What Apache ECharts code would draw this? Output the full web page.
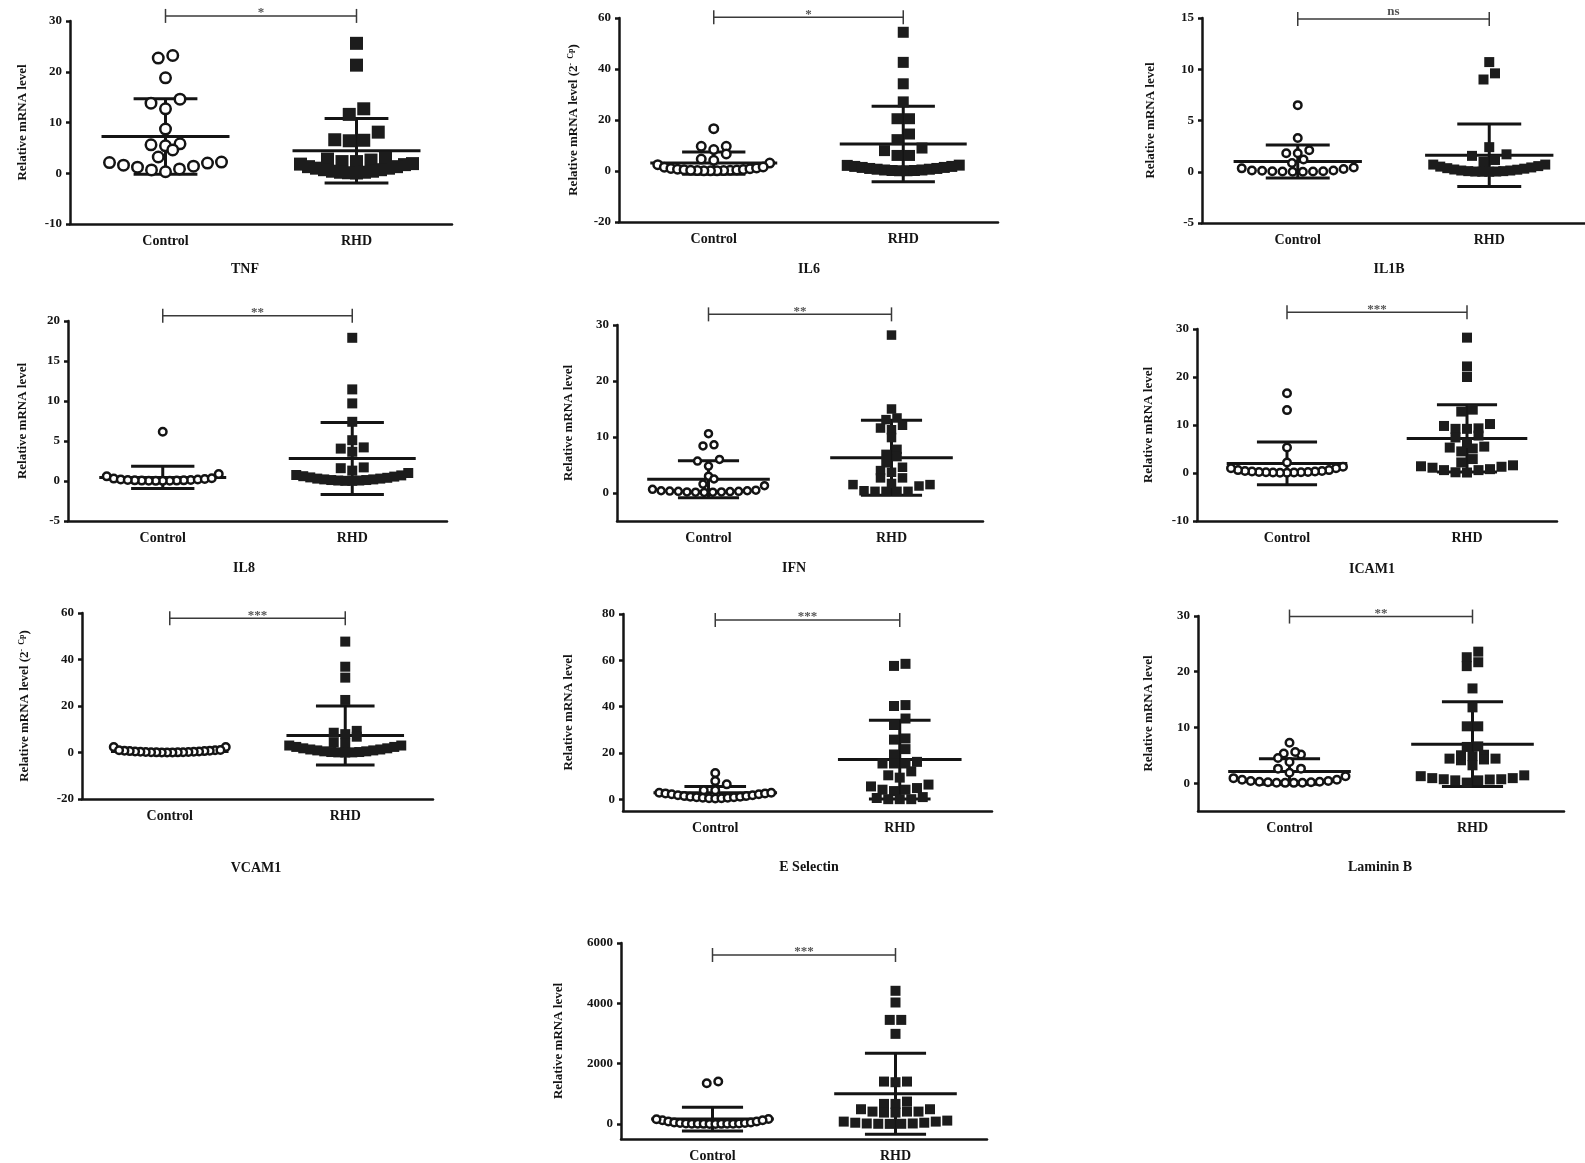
<!DOCTYPE html>
<html>
<head>
<meta charset="utf-8">
<script src="https://cdn.jsdelivr.net/npm/echarts@6/dist/echarts.min.js"></script>
<style>
  html, body { margin: 0; background: #fff; }
  #chart { width: 1585px; height: 1163px; }
</style>
</head>
<body>
<div id="chart"></div>
<script>
const groups = ['Control', 'RHD']
const panelNames = ['TNF', 'IL6', 'IL1B', 'IL8', 'IFN', 'ICAM1', 'VCAM1', 'E Selectin', 'Laminin B', '']
const sigLabels = ['*', '*', 'ns', '**', '**', '***', '***', '***', '**', '***']
const sigY = [31.0, 60.3, 14.9, 20.66, 31.9, 33.5, 57.7, 77.4, 29.9, 5602]
const yMin = [-10, -20, -5, -5, -5, -10, -20, -5, -5, -500]
const yMax = [30, 60, 15, 20, 30, 30, 60, 80, 30, 6000]
const yTicks = [
  [-10, 0, 10, 20, 30], [-20, 0, 20, 40, 60], [-5, 0, 5, 10, 15],
  [-5, 0, 5, 10, 15, 20], [0, 10, 20, 30], [-10, 0, 10, 20, 30],
  [-20, 0, 20, 40, 60], [0, 20, 40, 60, 80], [0, 10, 20, 30], [0, 2000, 4000, 6000]
]

// relative mRNA levels, one value per subject
const tnfCtrl = [22.7, 23.2, 18.8, 14.6, 13.8, 12.7, 8.7, 5.8, 5.4, 5.6, 4.6, 3.2, 2.2, 2.0, 1.4, 0.85, 0.3, 0.65, 1.2, 1.6, 2.1]
const tnfRhd = [25.6, 21.3, 12.7, 11.6, 8.1, 6.6, 6.4, 6.5, 3.0, 2.6, 1.9, 2.3, 2.8, 2.3, 1.7, 1.3, 1.0, 0.7, 0.4, 0.2, 0.1, 0.05, 0.2, 0.4, 0.7, 1.0, 1.3, 1.8]
const il6Ctrl = [16.6, 9.7, 8.4, 9.7, 6.7, 4.7, 4.2, 3.1, 2.5, 1.5, 1.0, 0.7, 0.5, 0.3, 0.2, 0.1, 0.05, 0.1, 0.2, 0.3, 0.4, 0.6, 0.9, 1.2, 1.6]
const il6Rhd = [54.4, 42.6, 34.2, 27.1, 20.5, 20.5, 14.5, 12.3, 9.0, 8.0, 6.1, 6.1, 2.2, 1.8, 1.4, 1.0, 0.7, 0.4, 0.2, 0.1, 0.1, 0.2, 0.4, 0.7, 1.0, 1.4, 1.8, 2.3]
const il1bCtrl = [6.5, 3.3, 2.1, 1.8, 1.8, 1.2, 0.85, 0.33, 0.13, 0.05, 0.02, 0.0, 0.0, 0.02, 0.05, 0.1, 0.13, 0.26, 0.42]
const il1bRhd = [10.7, 9.6, 9.0, 2.4, 1.55, 1.7, 1.15, 0.95, 0.7, 0.5, 0.35, 0.22, 0.12, 0.06, 0.02, 0.0, 0.0, 0.02, 0.06, 0.12, 0.2, 0.3, 0.42, 0.55, 0.7]
const il8Ctrl = [6.15, 0.87, 0.58, 0.3, 0.2, 0.12, 0.08, 0.05, 0.03, 0.02, 0.02, 0.03, 0.05, 0.08, 0.12, 0.18, 0.25, 0.35]
const il8Rhd = [17.9, 11.45, 9.7, 7.4, 4.2, 5.1, 3.65, 4.05, 1.7, 1.6, 1.3, 1.0, 0.7, 0.55, 0.4, 0.3, 0.2, 0.12, 0.06, 0.02, 0.02, 0.06, 0.12, 0.2, 0.3, 0.45, 0.6, 0.75]
const ifnCtrl = [10.6, 8.6, 8.4, 6.0, 5.7, 4.8, 3.0, 2.5, 1.3, 1.6, 0.4, 0.35, 0.3, 0.25, 0.2, 0.15, 0.1, 0.15, 0.2, 0.3, 0.4, 0.5, 0.65]
const ifnRhd = [28.2, 15.0, 13.1, 13.4, 11.6, 12.1, 11.3, 9.9, 7.8, 6.9, 6.5, 5.4, 4.0, 4.6, 3.7, 2.7, 2.7, 1.7, 1.5, 1.25, 1.5, 0.4, 0.3, 0.3, 0.3, 0.3]
const icamCtrl = [16.6, 13.1, 5.3, 2.2, 1.3, 1.0, 0.6, 0.4, 0.3, 0.2, 0.15, 0.1, 0.05, 0.05, 0.1, 0.15, 0.2, 0.3, 0.4, 0.6, 1.0]
const icamRhd = [28.2, 22.2, 20.0, 13.2, 12.8, 9.3, 9.8, 9.2, 10.2, 9.2, 7.8, 7.4, 6.2, 5.3, 5.5, 5.1, 4.5, 2.9, 1.6, 1.3, 0.8, 0.6, 0.1, 0.15, 0.6, 1.1, 1.4, 2.2]
const vcamCtrl = [2.4, 2.4, 1.0, 0.8, 0.6, 0.45, 0.3, 0.2, 0.12, 0.06, 0.02, 0.0, 0.02, 0.06, 0.12, 0.2, 0.3, 0.45, 0.6, 0.8, 1.0, 1.1]
const vcamRhd = [47.7, 36.9, 32.2, 22.6, 9.3, 8.5, 7.9, 6.8, 4.3, 3.9, 3.0, 2.4, 1.8, 1.3, 0.9, 0.5, 0.2, 0.05, 0.0, 0.05, 0.2, 0.5, 0.9, 1.3, 1.8, 2.4, 3.0]
const eselCtrl = [11.4, 7.9, 6.5, 3.9, 3.9, 2.9, 2.6, 2.2, 1.8, 1.5, 1.2, 0.9, 0.7, 0.5, 0.4, 0.5, 0.7, 0.9, 1.2, 1.5, 1.8, 2.2, 2.6, 2.9]
const eselRhd = [58.5, 57.6, 40.3, 40.7, 34.9, 32.1, 25.8, 26.3, 21.7, 19.4, 16.2, 15.5, 15.5, 15.5, 12.1, 10.4, 9.4, 6.4, 5.6, 4.9, 4.2, 3.6, 4.2, 1.0, 0.1, 0.1, 0.1, 0.6]
const lamCtrl = [7.25, 5.3, 4.5, 5.15, 5.6, 3.8, 2.6, 2.6, 1.85, 0.9, 0.6, 0.4, 0.25, 0.15, 0.08, 0.05, 0.05, 0.08, 0.15, 0.25, 0.4, 0.6, 1.25]
const lamRhd = [23.6, 22.6, 21.7, 21.0, 17.0, 13.6, 10.2, 10.2, 6.6, 6.5, 4.85, 4.4, 4.1, 5.1, 4.25, 4.4, 5.0, 3.2, 1.25, 0.9, 0.7, 0.5, 0.1, 0.5, 0.65, 0.7, 0.9, 1.4]
const p10Ctrl = [1405, 1350, 165, 120, 80, 50, 30, 15, 8, 4, 2, 1, 1, 2, 4, 8, 15, 30, 50, 80, 120, 155]
const p10Rhd = [4415, 4027, 3450, 3450, 2987, 1405, 1383, 1405, 741, 664, 487, 409, 409, 409, 487, 664, 376, 376, 77, 40, 15, 5, 2, 5, 15, 40, 77, 110]

// mean and SD as drawn for each group
const ctrlMeanSd = [[7.25, 7.45], [3.1, 4.4], [1.0, 1.6], [0.45, 1.4], [2.45, 3.3], [2.0, 4.45], [0.45, 0.7], [2.9, 2.7], [2.1, 2.3], [160, 395]]
const rhdMeanSd = [[4.45, 6.35], [10.6, 14.8], [1.6, 3.05], [2.8, 4.5], [6.3, 6.7], [7.2, 7.0], [7.3, 12.7], [17.2, 17.0], [7.0, 7.6], [1000, 1340]]

const ctrlValues = [tnfCtrl, il6Ctrl, il1bCtrl, il8Ctrl, ifnCtrl, icamCtrl, vcamCtrl, eselCtrl, lamCtrl, p10Ctrl]
const rhdValues = [tnfRhd, il6Rhd, il1bRhd, il8Rhd, ifnRhd, icamRhd, vcamRhd, eselRhd, lamRhd, p10Rhd]

// layout: [left, top, width, height] of each plot area
const grids = [
  [70, 21, 382, 203], [619, 18, 379, 204], [1202, 18, 383, 205],
  [68, 321, 379, 200], [617, 325, 366, 196], [1197, 329, 360, 192],
  [82, 613, 351, 186], [623, 614, 369, 197], [1198, 616, 366, 195],
  [621, 943, 366, 196]
]
const nameOffsets = [48, 46, 52, 46, 49, 49, 58, 55, 50, 63]
const titlePos = [[245, 269], [809, 269], [1389, 269], [244, 568], [794, 568], [1372, 569], [256, 868], [809, 867], [1380, 867]]
const markerSize = [13, 11, 10, 10, 9.5, 10, 10, 10, 10, 10]
const supName = [1, 6]

const FONT = '"Liberation Serif", "Times New Roman", serif'
const INK = '#141414'

// GraphPad-like scatter spread: points of similar value share a row, lowest in the middle
function spread(values, d, sx, sy) {
  const maxHalf = 56
  const order = values.map((v, i) => i).sort((a, b) => values[a] - values[b])
  const off = values.map(() => 0)
  let row = [], base = null
  const flush = () => {
    const n = row.length
    const step = n > 1 ? Math.min(d + 1.5, 2 * maxHalf / (n - 1)) : 0
    const slots = []
    for (let k = 0; k < n; k++) slots.push(k - (n - 1) / 2)
    slots.sort((a, b) => Math.abs(a) - Math.abs(b) || a - b)
    row.forEach((i, k) => { off[i] = slots[k] * step / sx })
  }
  order.forEach(i => {
    const y = values[i] * sy
    if (base === null || y - base > d * 0.8) { if (row.length) flush(); row = []; base = y }
    row.push(i)
  })
  if (row.length) flush()
  return off
}

const chart = echarts.init(document.getElementById('chart'), null, { renderer: 'canvas' })

const grid = [], xAxis = [], yAxis = [], series = []
grids.forEach((g, p) => {
  grid.push({ left: g[0], top: g[1], width: g[2], height: g[3], containLabel: false, outerBoundsMode: 'none' })
  xAxis.push({
    type: 'category', gridIndex: p, data: groups, boundaryGap: true,
    axisLine: { onZero: false, lineStyle: { color: INK, width: 2.5 } },
    axisTick: { alignWithLabel: true, length: 5, lineStyle: { color: INK, width: 2.5 } },
    axisLabel: { margin: 10, color: INK, fontFamily: FONT, fontWeight: 'bold', fontSize: 14 }
  })
  xAxis.push({ type: 'value', gridIndex: p, min: -0.5, max: 1.5, show: false })

  const isSup = supName.includes(p)
  yAxis.push({
    type: 'value', gridIndex: p, min: yMin[p], max: yMax[p],
    splitLine: { show: false },
    axisLine: { show: true, onZero: false, lineStyle: { color: INK, width: 2.5 } },
    axisTick: { show: true, length: 4, customValues: yTicks[p], lineStyle: { color: INK, width: 2.5 } },
    axisLabel: {
      customValues: yTicks[p], margin: 8, color: INK, fontFamily: FONT, fontWeight: 'bold', fontSize: 13,
      formatter: v => String(v)
    },
    name: isSup ? 'Relative mRNA level (2{sup|-  Cp})' : 'Relative mRNA level',
    nameLocation: 'middle', nameRotate: 90, nameGap: nameOffsets[p] - 7,
    nameTextStyle: {
      color: INK, fontFamily: FONT, fontWeight: 'bold', fontSize: 13,
      rich: { sup: { fontSize: 8, fontFamily: FONT, fontWeight: 'bold', color: INK, verticalAlign: 'top', lineHeight: 8 } }
    }
  })

  const d = markerSize[p]
  const sx = g[2] / 2
  const sy = g[3] / (yMax[p] - yMin[p])
  const cOff = spread(ctrlValues[p], d, sx, sy)
  const rOff = spread(rhdValues[p], d, sx, sy)

  series.push({
    type: 'custom', xAxisIndex: 2 * p + 1, yAxisIndex: p, z: 1, silent: true,
    data: [[0, ctrlMeanSd[p][0], ctrlMeanSd[p][1]], [1, rhdMeanSd[p][0], rhdMeanSd[p][1]]],
    renderItem: (params, api) => {
      const x = api.value(0), m = api.value(1), s = api.value(2)
      const c = api.coord([x, m]), hi = api.coord([x, m + s]), lo = api.coord([x, m - s])
      const mw = api.size([0.335, 0])[0], sw = api.size([0.167, 0])[0]
      const st = { stroke: INK, lineWidth: 3 }
      return {
        type: 'group', children: [
          { type: 'line', shape: { x1: c[0] - mw, y1: c[1], x2: c[0] + mw, y2: c[1] }, style: st },
          { type: 'line', shape: { x1: c[0], y1: hi[1], x2: c[0], y2: lo[1] }, style: st },
          { type: 'line', shape: { x1: c[0] - sw, y1: hi[1], x2: c[0] + sw, y2: hi[1] }, style: st },
          { type: 'line', shape: { x1: c[0] - sw, y1: lo[1], x2: c[0] + sw, y2: lo[1] }, style: st }
        ]
      }
    }
  })
  series.push({
    type: 'scatter', xAxisIndex: 2 * p + 1, yAxisIndex: p, z: 3, silent: true,
    symbol: 'circle', symbolSize: d - 2.5,
    itemStyle: { color: '#fff', borderColor: INK, borderWidth: 2.5, opacity: 1 },
    data: ctrlValues[p].map((v, i) => [0 + cOff[i], v])
  })
  series.push({
    type: 'scatter', xAxisIndex: 2 * p + 1, yAxisIndex: p, z: 3, silent: true,
    symbol: 'rect', symbolSize: d,
    itemStyle: { color: '#1c1c1c', opacity: 1 },
    data: rhdValues[p].map((v, i) => [1 + rOff[i], v])
  })
  series.push({
    type: 'custom', xAxisIndex: 2 * p + 1, yAxisIndex: p, z: 4, silent: true,
    data: [[0, sigY[p], 1]],
    renderItem: (params, api) => {
      const a = api.coord([api.value(0), api.value(1)])
      const b = api.coord([api.value(2), api.value(1)])
      const st = { stroke: '#3a3a3a', lineWidth: 1.5 }
      return {
        type: 'group', children: [
          { type: 'line', shape: { x1: a[0], y1: a[1] - 7, x2: a[0], y2: a[1] + 7 }, style: st },
          { type: 'line', shape: { x1: a[0], y1: a[1], x2: b[0], y2: b[1] }, style: st },
          { type: 'line', shape: { x1: b[0], y1: b[1] - 7, x2: b[0], y2: b[1] + 7 }, style: st },
          {
            type: 'text', x: (a[0] + b[0]) / 2, y: a[1] - (sigLabels[p] === 'ns' ? 7 : 3),
            style: { text: sigLabels[p], textAlign: 'center', textVerticalAlign: 'middle', fill: '#555', font: 'bold 13px ' + FONT }
          }
        ]
      }
    }
  })
})

const graphic = titlePos.map(([x, y], p) => ({
  type: 'text', x, y, silent: true,
  style: { text: panelNames[p], textAlign: 'center', textVerticalAlign: 'middle', fill: INK, font: 'bold 14px ' + FONT }
}))

chart.setOption({ animation: false, grid, xAxis, yAxis, series, graphic })
</script>
</body>
</html>
